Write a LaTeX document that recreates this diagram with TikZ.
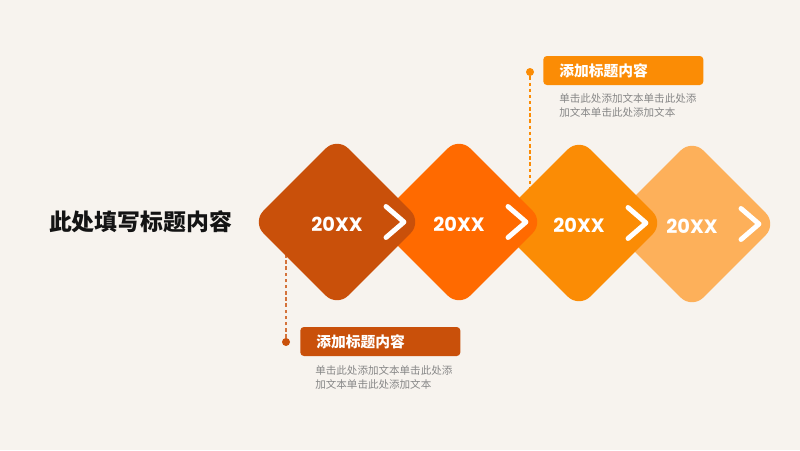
\documentclass[tikz,border=0pt]{standalone}
\usepackage{fontspec}
\newfontfamily\cjk{Noto Sans CJK SC}
\newfontfamily\numfont{Poppins}
\usepackage{tikz}
\usetikzlibrary{calc}
\definecolor{bgcream}{RGB}{247,243,238}
\definecolor{rustorange}{RGB}{201,80,10}
\definecolor{deeporange}{RGB}{255,106,0}
\definecolor{midorange}{RGB}{251,140,5}
\definecolor{softorange}{RGB}{253,176,90}
\definecolor{bodygray}{RGB}{135,135,135}
\definecolor{titleblack}{RGB}{20,20,20}

\tikzset{
  diamondbox/.style={rectangle, rotate=45, minimum size=2.4cm, inner sep=0pt,
    rounded corners=0.32cm},
  yearlabel/.style={text=white, font=\numfont\bfseries\fontsize{11}{13}\selectfont},
  chevron/.style={white, line width=2.8pt, line cap=round, line join=round},
  tagbox/.style={rounded corners=2pt, text=white, anchor=west, minimum height=0.58cm,
    text width=2.56cm, inner xsep=0.32cm, inner ysep=0pt,
    font=\cjk\bfseries\fontsize{8.4}{10}\selectfont},
  bodytext/.style={anchor=north west, align=left, inner sep=0pt, text=bodygray,
    font=\cjk\fontsize{6}{7.9}\selectfont},
  leader/.style={line width=0.6pt, dash pattern=on 2pt off 1.5pt},
  tagdot/.style={circle, inner sep=0pt, minimum size=0.16cm}
}

\begin{document}
\begin{tikzpicture}[x=0.02cm, y=-0.02cm]
  \fill[bgcream] (0,0) rectangle (800,450);
  \useasboundingbox (0,0) rectangle (800,450);

  \node[font=\cjk\bfseries\fontsize{13}{15}\selectfont, text=titleblack] (title) at (140.5,222) {此处填写标题内容};

  % leader lines to the tags
  \node[tagdot, fill=midorange] (p1) at (530,72) {};
  \coordinate (q1) at (530,200);
  \draw[leader, midorange] (p1) -- (q1);
  \node[tagdot, fill=rustorange] (p2) at (286,342) {};
  \coordinate (q2) at (286,240);
  \draw[leader, rustorange!80] (p2) -- (q2);

  % diamonds, back to front
  \node[diamondbox, fill=softorange] (d4) at (692,224) {};
  \node[diamondbox, fill=midorange] (d3) at (579,223) {};
  \node[diamondbox, fill=deeporange] (d2) at (459,222) {};
  \node[diamondbox, fill=rustorange] (d1) at (337,222) {};

  \foreach \d in {d1,d2,d3,d4}{
    \node[yearlabel] (y\d) at ($(\d)+(0,2.5)$) {20XX};
    \draw[chevron] ($(\d)+(49,-15.5)$) -- ++(18,15.5) -- ++(-18,15.5);
  }

  % tags
  \node[tagbox, fill=midorange] (tag1) at (543,70.5) {添加标题内容};
  \node[bodytext] (body1) at (559,93) {单击此处添加文本单击此处添\\加文本单击此处添加文本};
  \node[tagbox, fill=rustorange] (tag2) at (300,341.5) {添加标题内容};
  \node[bodytext] (body2) at (315,365) {单击此处添加文本单击此处添\\加文本单击此处添加文本};
\end{tikzpicture}
\end{document}
